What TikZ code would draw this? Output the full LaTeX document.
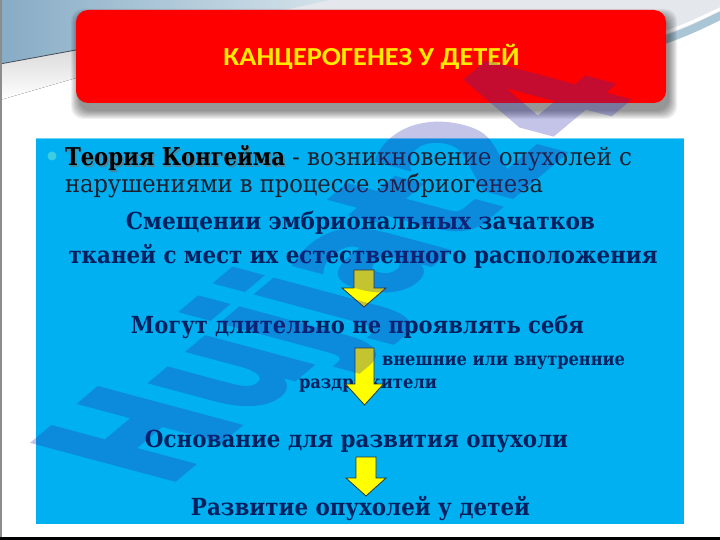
\documentclass[tikz,border=0pt]{standalone}
\usepackage{fontspec}
\usepackage{graphicx}
\setmainfont{DejaVu Serif}
\newfontfamily\titlefont{Carlito}
\newfontfamily\wmfont[FakeBold=2.5]{DejaVu Sans}
\newcommand{\fitw}[2]{\resizebox{#1}{\height}{#2}}
\definecolor{panelblue}{RGB}{0,176,240}
\definecolor{paneledge}{RGB}{110,210,245}
\definecolor{navy}{RGB}{0,32,96}
\definecolor{darktext}{RGB}{30,30,45}
\definecolor{wmcol}{RGB}{45,45,175}
\definecolor{bulletc}{RGB}{60,205,225}
\definecolor{arrowyellow}{RGB}{255,255,0}
\definecolor{arrowedge}{RGB}{45,55,45}
\definecolor{titleyellow}{RGB}{255,235,0}
\definecolor{topgrey}{RGB}{228,232,236}
\definecolor{steelA}{RGB}{135,172,198}
\definecolor{steelB}{RGB}{212,226,234}
\definecolor{linegrey}{RGB}{70,80,92}
\definecolor{bandblue}{RGB}{170,198,214}
\newcommand{\yarrow}[6]{%
  \draw[yarr] (#1-#4,#2) -- (#1+#4,#2) -- (#1+#4,#3) -- (#1+#5,#3) -- (#1,#6)
     -- (#1-#5,#3) -- (#1-#4,#3) -- cycle;}
\begin{document}
\begin{tikzpicture}[x=1pt,y=-1pt,
  txt/.style={inner sep=0pt, outer sep=0pt},
  navyb/.style={txt, text=navy, font=\bfseries\fontsize{23.5}{27}\selectfont},
  navys/.style={txt, text=navy, font=\bfseries\fontsize{18}{21}\selectfont},
  regtxt/.style={txt, text=darktext, font=\fontsize{24.5}{28}\selectfont},
  yarr/.style={fill=arrowyellow, draw=arrowedge, line width=0.8pt, line join=miter},
]
\useasboundingbox (0,0) rectangle (720,540);
\fill[white] (0,0) rectangle (720,540);
% top background
\fill[topgrey] (0,0) -- (720,0) -- (720,14) -- (666,40) -- (0,40) -- cycle;
\shade[left color=steelA, right color=steelB] (0,0) -- (330,0)
   .. controls (250,18) and (150,38) .. (76,50) -- (0,64) -- cycle;
\fill[top color=black!14, bottom color=white] (0,64) -- (76,50) -- (76,78) -- (0,100) -- cycle;
\draw[linegrey, line width=0.8pt] (0,64) -- (76,50);
\draw[white, line width=3pt] (664,33) .. controls (690,24) and (705,16) .. (722,8);
\draw[bandblue, line width=8pt] (664,40) .. controls (690,31) and (705,23) .. (722,15);
% frame lines
\draw[black!45, line width=1.5pt] (0.75,0) -- (0.75,540);
\draw[black, line width=3pt] (0,538.5) -- (720,538.5);
% title box shadow
\foreach \i in {0,...,8}{
  \fill[black, opacity=0.055, rounded corners=12pt] ({79-\i},{17-\i}) rectangle ({669+\i},{111+\i});
}
\node[fill=red, rounded corners=12pt, minimum width=590pt, minimum height=93pt, inner sep=0pt] (titlebox) at (371,56.5) {};
\node[txt, anchor=base, text=titleyellow, font=\titlefont\bfseries\fontsize{26}{30}\selectfont] (title) at (371.5,66) {\fitw{296pt}{КАНЦЕРОГЕНЕЗ У ДЕТЕЙ}};
% panel
\node[fill=panelblue, minimum width=648pt, minimum height=385pt, inner sep=0pt] (panel) at (360,331.5) {};
\draw[paneledge, line width=1pt] (panel.north west) -- (panel.north east);
\node[circle, fill=bulletc, minimum size=9pt, inner sep=0pt] (bullet) at (52,156) {};
% line 1
\node[txt, anchor=base west, text=black!55, opacity=0.7, font=\bfseries\fontsize{24.5}{28}\selectfont] (t1s) at (66.5,167.5) {\fitw{220pt}{Теория Конгейма}};
\node[txt, anchor=base west, text=black, font=\bfseries\fontsize{24.5}{28}\selectfont] (t1b) at (65,166) {\fitw{220pt}{Теория Конгейма}};
\node[regtxt, anchor=base west] (t1r) at (292,166) {\fitw{340pt}{- возникновение опухолей с}};
\node[regtxt, anchor=base west] (t2) at (65,193) {\fitw{478pt}{нарушениями в процессе эмбриогенеза}};
\node[navyb, anchor=base] (t3) at (360.5,230) {\fitw{469pt}{Смещении эмбриональных зачатков}};
\node[navyb, anchor=base] (t4) at (363,263) {\fitw{589pt}{тканей с мест их естественного расположения}};
\node[navyb, anchor=base] (t5) at (357.5,333) {\fitw{453pt}{Могут длительно не проявлять себя}};
\node[navys, anchor=base west] (t6) at (382,365) {\fitw{243pt}{внешние или внутренние}};
\node[navys, anchor=base west] (t7) at (299,388) {\fitw{138pt}{раздражители}};
\node[navyb, anchor=base] (t8) at (356.5,447) {\fitw{423pt}{Основание для развития опухоли}};
\node[navyb, anchor=base] (t9) at (360.5,515) {\fitw{339pt}{Развитие опухолей у детей}};
% arrows
\yarrow{364}{270}{288}{10}{22}{307}
\yarrow{364.5}{348}{384}{9.5}{19}{405}
\yarrow{366}{457}{478}{10}{20}{496}
% watermark
\begin{scope}[transparency group, opacity=0.28]
\begin{scope}[cm={1.0,0.838,-1.93,0.517,(165,488)}]
  \node[transform shape, anchor=base west, inner sep=0pt, text=wmcol,
        font=\wmfont\bfseries\fontsize{100}{100}\selectfont] (wm) at (0,0) {Hujjat24};
\end{scope}
\end{scope}
\end{tikzpicture}
\end{document}
